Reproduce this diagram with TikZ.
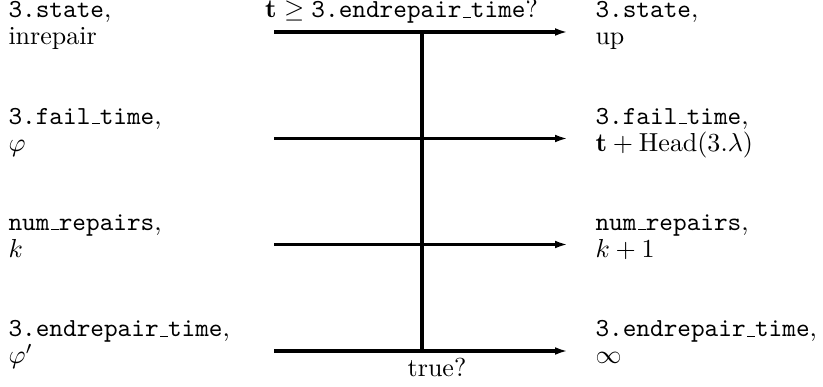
\documentclass[tikz,border=0pt]{standalone}
\usepackage{amsmath, amssymb}
\usepackage{tikz}
\usetikzlibrary{arrows.meta, positioning}
\newcommand{\usc}{\leavevmode\kern.06em\vbox{\hrule width.3em}}
\tikzset{
  varnode/.style={
    inner sep=0pt, align=left, anchor=base west,
    font={\fontsize{10}{10.4}\selectfont}
  },
  condlabel/.style={inner sep=0pt, anchor=base},
  transarrow/.style={-{Latex[length=5pt,width=3pt]}, line width=1.2pt, black},
  transbar/.style={line width=1.2pt, black}
}

\begin{document}
\begin{tikzpicture}[x=0.3846pt, y=-0.3846pt]
    \useasboundingbox (0,0) rectangle (823,387);
    % old values
    \node[varnode] (l1) at (8,45) {\texttt{3.state},\\inrepair};
    \node[varnode] (l2) at (8,151.5) {\texttt{3.fail\usc time},\\$\varphi$};
    \node[varnode] (l3) at (8,257.5) {\texttt{num\usc repairs},\\$k$};
    \node[varnode] (l4) at (8,364) {\texttt{3.endrepair\usc time},\\$\varphi'$};
    % new values
    \node[varnode] (r1) at (595,45) {\texttt{3.state},\\up};
    \node[varnode] (r2) at (595,151.5) {\texttt{3.fail\usc time},\\$\mathbf{t}+\mathrm{Head}(3.\lambda)$};
    \node[varnode] (r3) at (595,257.5) {\texttt{num\usc repairs},\\$k+1$};
    \node[varnode] (r4) at (595,364) {\texttt{3.endrepair\usc time},\\$\infty$};
    % transition
    \coordinate (s1) at (274,32);
    \coordinate (s2) at (274,138.5);
    \coordinate (s3) at (274,244.5);
    \coordinate (s4) at (274,351);
    \coordinate (e1) at (568,32);
    \coordinate (e2) at (568,138.5);
    \coordinate (e3) at (568,244.5);
    \coordinate (e4) at (568,351);
    \coordinate (bartop) at (422,32);
    \coordinate (barbot) at (422,351);
    \node[condlabel] (guard) at (401.5,18) {$\mathbf{t}\geq\texttt{3.endrepair\usc time}$?};
    \node[condlabel] (cond) at (437,377) {true?};
    \draw[transarrow] (s1)--(e1);
    \draw[transarrow] (s2)--(e2);
    \draw[transarrow] (s3)--(e3);
    \draw[transarrow] (s4)--(e4);
    \draw[transbar] (bartop)--(barbot);
  \end{tikzpicture}
\end{document}
